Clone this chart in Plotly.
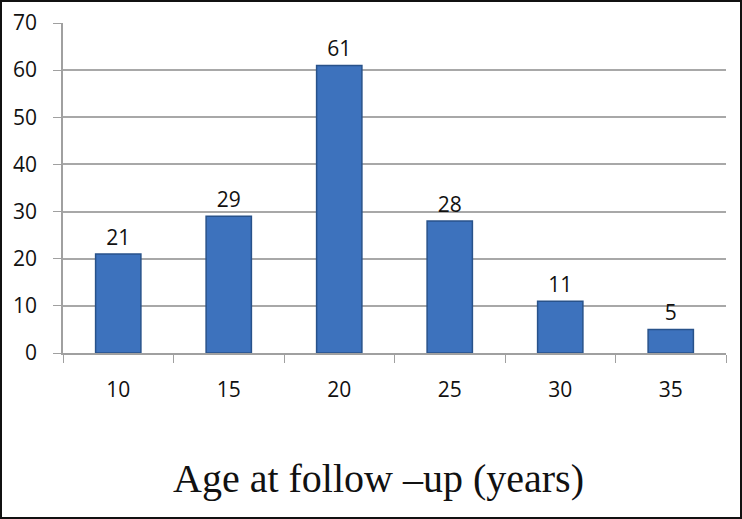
import plotly.graph_objects as go

ages = ["10", "15", "20", "25", "30", "35"]
counts = [21, 29, 61, 28, 11, 5]
y_ticks = [0, 10, 20, 30, 40, 50, 60, 70]

W, H = 742, 519
L, R, T, B = 63, 16, 23, 166
pw, ph = W - L - R, H - T - B

fig = go.Figure()
fig.add_trace(go.Bar(
    x=ages, y=counts,
    text=[str(c) for c in counts],
    textposition="outside",
    textfont=dict(size=21, color="#111111", family="Open Sans"),
    marker=dict(color="#3D72BD", line=dict(color="#28528A", width=1.5)),
    cliponaxis=False,
))

fig.update_layout(
    width=W, height=H,
    margin=dict(l=L, r=R, t=T, b=B, autoexpand=False),
    paper_bgcolor="white", plot_bgcolor="white",
    bargap=0.59,
    showlegend=False,
    font=dict(family="Open Sans", size=21, color="#111111"),
)
fig.update_xaxes(
    type="category", tickson="boundaries", ticks="outside", ticklen=8,
    tickcolor="#a0a0a0", showline=True, linecolor="#a0a0a0", linewidth=1.5,
    showgrid=False, ticklabelstandoff=17, automargin=False,
    tickfont=dict(size=21, family="Open Sans", color="#111111"),
)
fig.update_yaxes(
    range=[0, 70], tickvals=y_ticks, ticks="outside", ticklen=8,
    tickcolor="#a0a0a0", showline=True, linecolor="#a0a0a0", linewidth=1.5,
    gridcolor="#a8a8a8", gridwidth=1.5, zeroline=False, ticklabelstandoff=12,
    automargin=False,
    tickfont=dict(size=21, family="Open Sans", color="#111111"),
)

# axis title at the bottom
fig.add_annotation(
    text="Age at follow \u2013up (years)", xref="paper", yref="paper",
    x=(378 - L) / pw, y=-(478 - T - ph) / ph, xanchor="center", yanchor="middle",
    showarrow=False, font=dict(family="Liberation Serif", size=40, color="#111111"),
)

# frame around the picture
fig.add_shape(
    type="rect", xref="paper", yref="paper",
    x0=-(L - 1) / pw, x1=1 + (R - 1) / pw,
    y0=-(B - 1) / ph, y1=1 + (T - 1) / ph,
    line=dict(color="#111111", width=2),
)

fig.write_html("out.html", config={"displayModeBar": False},
               post_script="document.body.style.margin='0';")
